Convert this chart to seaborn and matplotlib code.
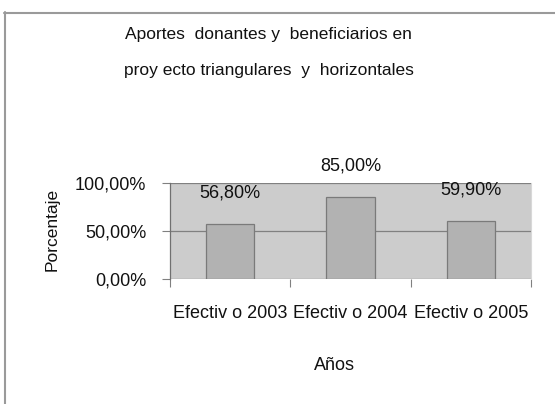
import matplotlib
matplotlib.use("Agg")
import matplotlib.pyplot as plt
from matplotlib.lines import Line2D
from matplotlib.ticker import FixedLocator
import pandas as pd
import seaborn as sns

# datos del grafico
categorias = ["Efectiv o 2003", "Efectiv o 2004", "Efectiv o 2005"]
porcentajes = [56.8, 85.0, 59.9]
ticks_y = [0, 50, 100]
etiquetas_y = ["0,00%", "50,00%", "100,00%"]
titulo_1 = "Aportes  donantes y  beneficiarios en"
titulo_2 = "proy ecto triangulares  y  horizontales"

df = pd.DataFrame({"categoria": categorias, "valor": porcentajes})

sns.set_style("white")
plt.rcParams["font.family"] = ["Liberation Sans", "DejaVu Sans"]

W, H = 555, 404
fig = plt.figure(figsize=(W / 100, H / 100), dpi=100)
fig.patch.set_facecolor("white")

# area del grafico (en pixeles -> fraccion)
left, right, top, bottom = 170, 531, 183, 279
ax = fig.add_axes([left / W, 1 - bottom / H, (right - left) / W, (bottom - top) / H])
ax.set_facecolor("#cccccc")

sns.barplot(data=df, x="categoria", y="valor", ax=ax, width=0.4,
            color="#b2b2b2", edgecolor="#7a7a7a", linewidth=0.9,
            saturation=1, zorder=3)

ax.set_ylim(0, 100)
ax.set_xlim(-0.5, len(categorias) - 0.5)
ax.set_yticks(ticks_y)
ax.set_yticklabels(etiquetas_y, fontsize=13, color="#111111")
for y in ticks_y:
    ax.axhline(y, color="#808080", lw=0.9, zorder=1)

# ticks x en los limites de categoria
ax.xaxis.set_minor_locator(FixedLocator([i - 0.5 for i in range(len(categorias) + 1)]))
ax.tick_params(axis="x", which="minor", length=6, width=0.8, color="#808080", direction="out")
ax.tick_params(axis="x", which="major", length=0, pad=19, labelsize=13, labelcolor="#111111")
ax.tick_params(axis="y", length=6, width=0.8, color="#808080", direction="out", pad=11)
ax.tick_params(bottom=True, left=True, which="both")

ax.set_xlabel("")
ax.set_ylabel("")
for s in ["top", "bottom"]:
    ax.spines[s].set_visible(False)
ax.spines["left"].set_color("#707070")
ax.spines["left"].set_linewidth(0.9)
ax.spines["right"].set_color("#d8d8d8")
ax.spines["right"].set_linewidth(0.8)

# etiquetas de valor
for i, v in enumerate(porcentajes):
    txt = f"{v:.2f}".replace(".", ",") + "%"
    ax.annotate(txt, (i, v), xytext=(0, 22.5), textcoords="offset points",
                ha="center", va="center", fontsize=13, color="#111111",
                annotation_clip=False)

fig.text(268 / W, 1 - 34 / H, titulo_1, ha="center", va="center", fontsize=12.5,
         color="#111111")
fig.text(269 / W, 1 - 70 / H, titulo_2, ha="center", va="center", fontsize=12.5,
         color="#111111")
fig.text(52 / W, 1 - 229 / H, "Porcentaje", rotation=90, ha="center", va="center",
         fontsize=12.5, color="#111111")
fig.text(334 / W, 1 - 366 / H, "Años", ha="center", va="center", fontsize=13,
         color="#111111")

# marco exterior
fig.add_artist(Line2D([5 / W, 5 / W], [0, 1 - 12 / H], color="#9a9a9a", lw=1.5))
fig.add_artist(Line2D([4 / W, 1], [1 - 12.5 / H, 1 - 12.5 / H], color="#9a9a9a", lw=1.5))

fig.savefig("out.png", dpi=100, facecolor="white")
